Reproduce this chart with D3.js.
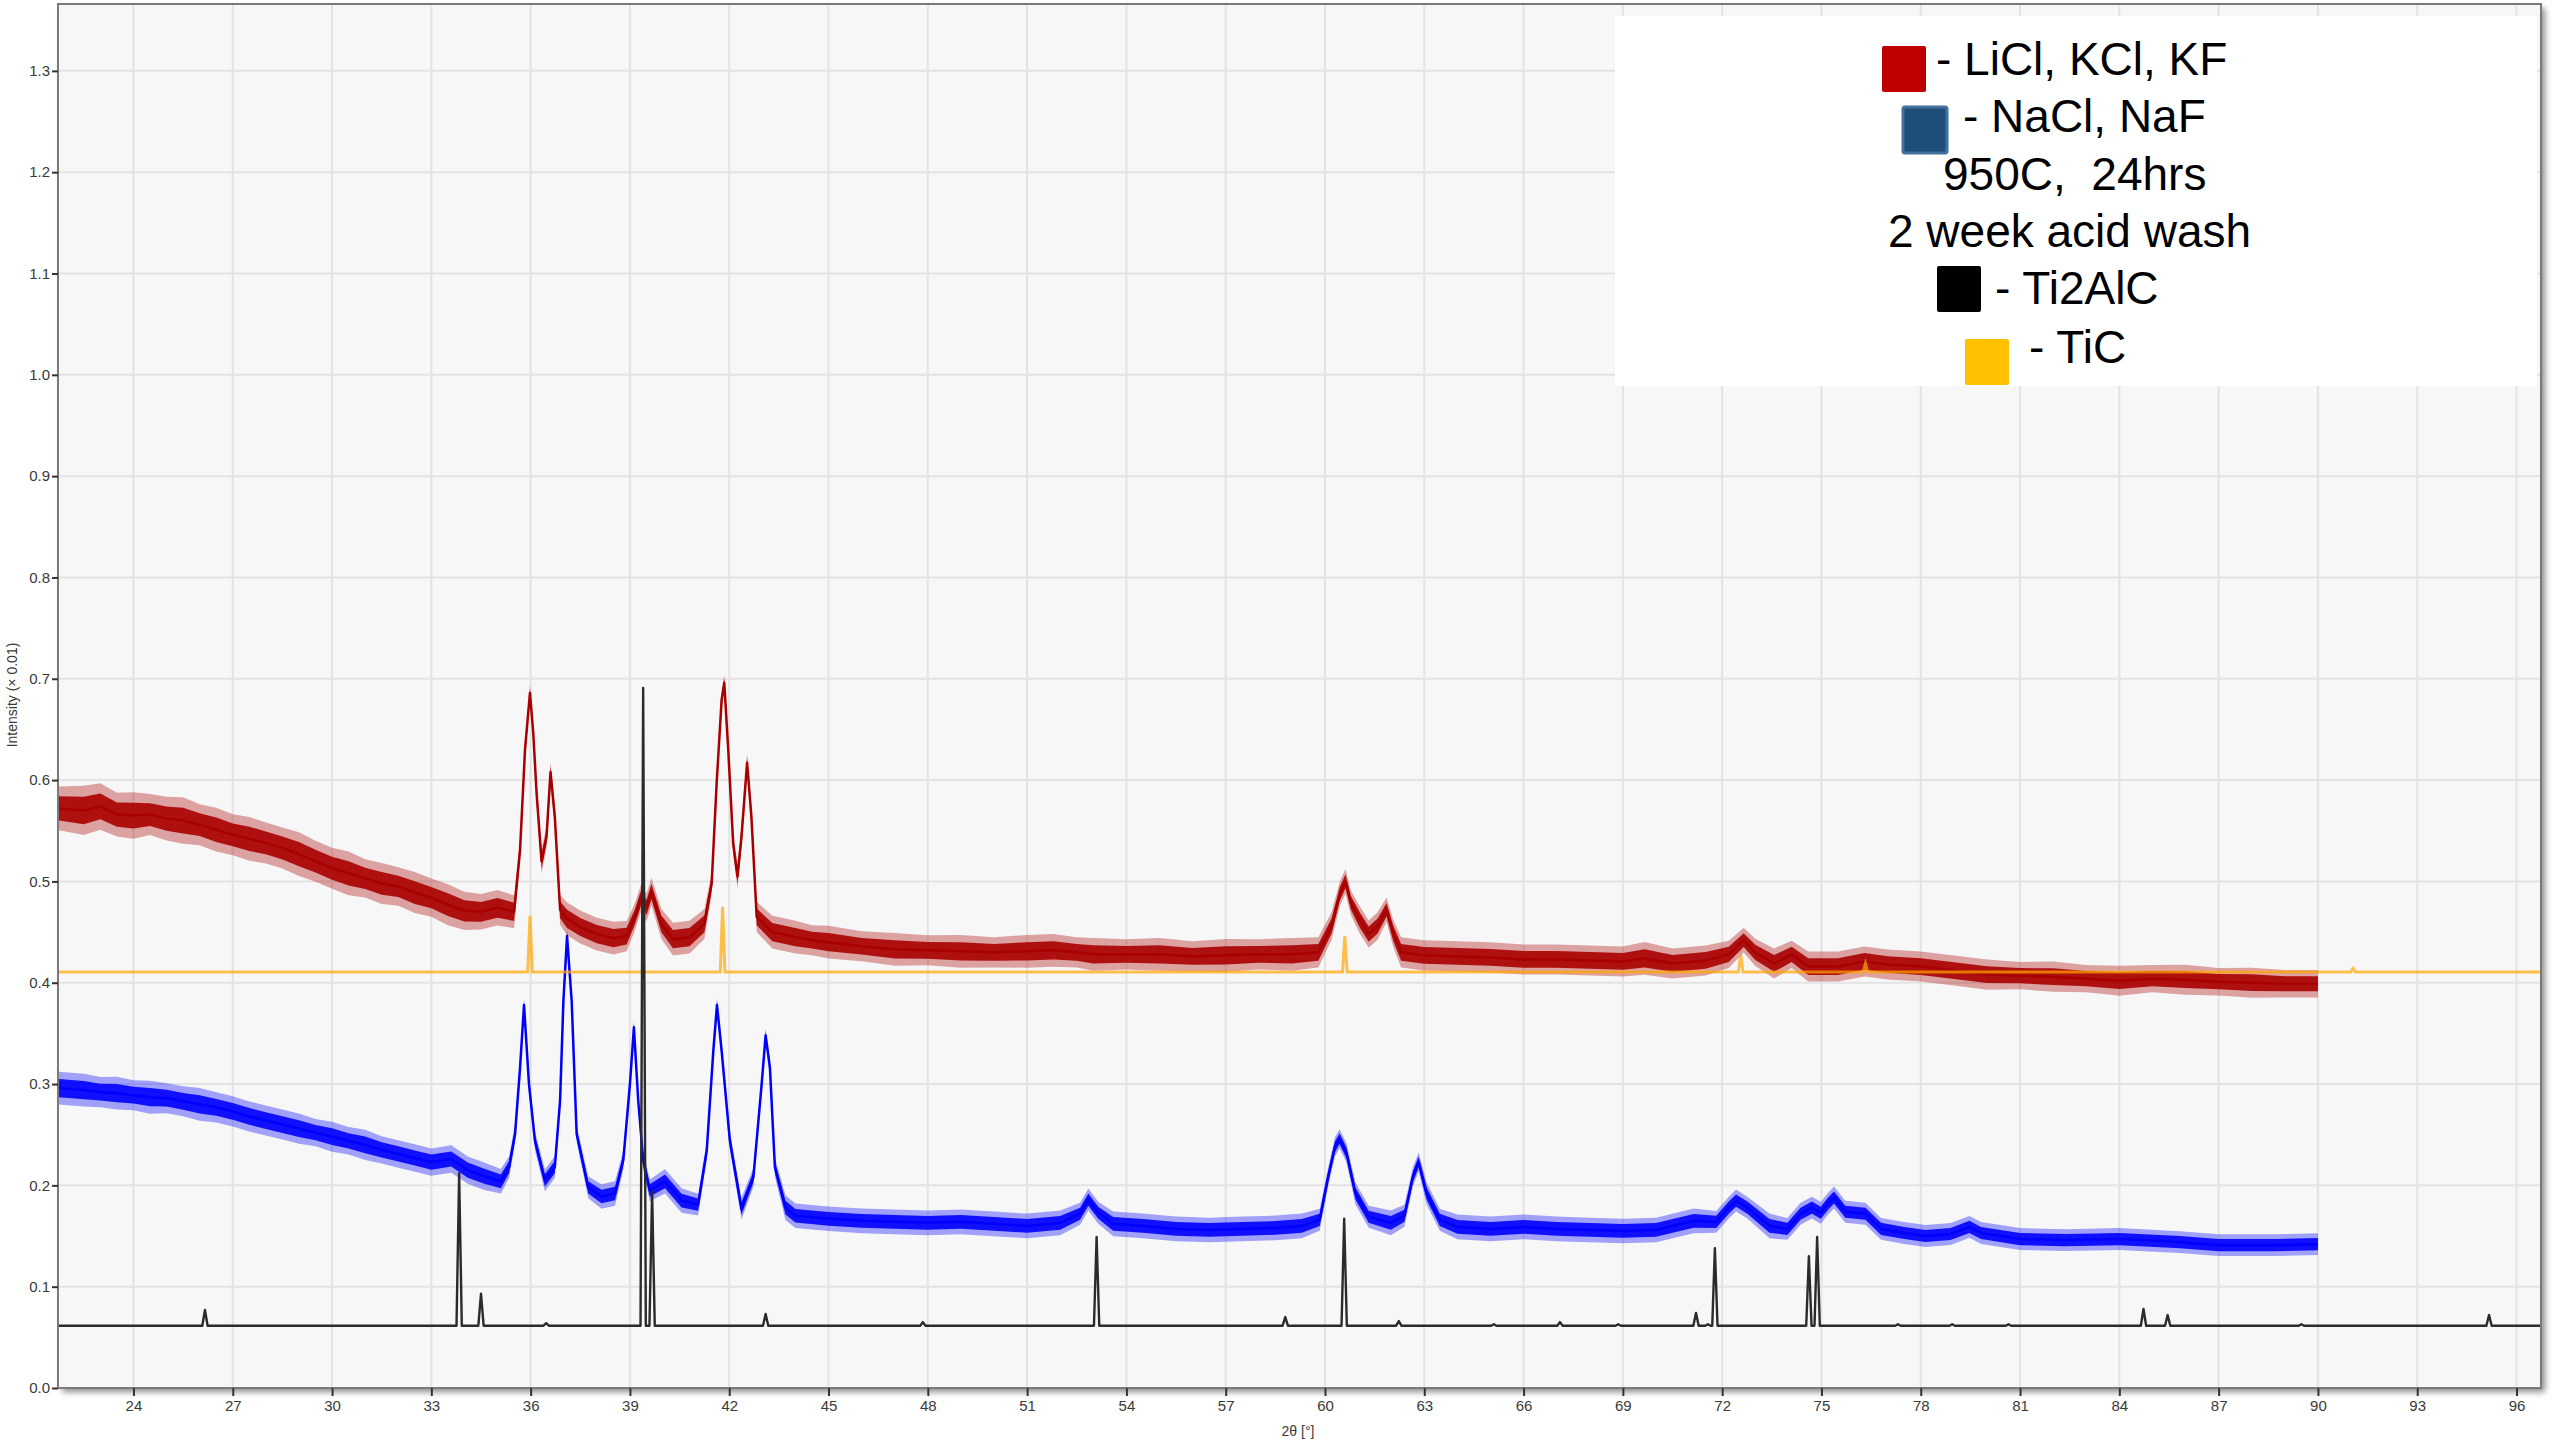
<!DOCTYPE html>
<html>
<head>
<meta charset="utf-8">
<script src="https://cdn.jsdelivr.net/npm/d3@7"></script>
<style>
  body { margin: 0; background: #fff; }
  svg { display: block; }
  text { font-family: "Liberation Sans", Arial, sans-serif; }
</style>
</head>
<body>
<svg id="chart" width="2560" height="1440"></svg>
<script>
const width = 2560;
const height = 1440;

// axis ticks
const xTicks = [24, 27, 30, 33, 36, 39, 42, 45, 48, 51, 54, 57, 60, 63, 66, 69, 72, 75, 78, 81, 84, 87, 90, 93, 96];
const yTicks = [0.0, 0.1, 0.2, 0.3, 0.4, 0.5, 0.6, 0.7, 0.8, 0.9, 1.0, 1.1, 1.2, 1.3];

// measured patterns: [2theta, mid intensity, noise half-band]
const lkclPattern = [
  [21.75,.572,.016],[22.5,.570,.018],[23,.574,.017],[23.5,.566,.016],[24,.565,.017],[24.5,.566,.015],
  [25,.562,.016],[25.5,.560,.017],[26,.556,.015],[26.5,.551,.016],[27,.546,.015],[27.5,.542,.016],
  [28,.538,.015],[28.5,.533,.015],[29,.527,.016],[29.5,.520,.015],[30,.513,.015],[30.5,.508,.016],
  [31,.503,.014],[31.5,.498,.015],[32,.495,.014],[32.5,.489,.015],[33,.484,.014],[33.5,.477,.015],
  [34,.471,.014],[34.5,.470,.013],[35,.474,.013],[35.5,.470,.012],[35.68,.531,.008],[35.83,.630,.007],
  [35.98,.686,.006],[36.08,.646,.007],[36.18,.587,.008],[36.33,.520,.009],[36.48,.544,.008],[36.6,.608,.007],
  [36.73,.564,.008],[36.89,.472,.011],[37.1,.463,.012],[37.5,.455,.012],[38,.448,.012],[38.5,.444,.012],
  [38.9,.446,.011],[39.15,.465,.010],[39.35,.485,.010],[39.5,.474,.010],[39.65,.490,.010],[39.95,.458,.011],
  [40.3,.443,.012],[40.8,.445,.012],[41.25,.458,.011],[41.47,.498,.008],[41.62,.597,.007],[41.77,.679,.006],
  [41.85,.696,.006],[41.97,.630,.007],[42.12,.537,.008],[42.25,.505,.009],[42.37,.544,.008],[42.54,.617,.007],
  [42.67,.564,.008],[42.83,.465,.011],[43.3,.450,.012],[44,.445,.012],[44.5,.442,.011],[45,.440,.012],
  [46,.436,.011],[47,.433,.012],[48,.432,.011],[49,.431,.012],[50,.430,.011],[51,.431,.012],
  [51.8,.432,.012],[52.5,.430,.011],[53,.428,.012],[54,.428,.011],[55,.428,.012],[56,.426,.011],
  [57,.427,.012],[58,.428,.011],[59,.428,.012],[59.8,.430,.011],[60.2,.456,.010],[60.45,.488,.009],
  [60.62,.500,.009],[60.78,.479,.009],[61.05,.462,.010],[61.32,.448,.010],[61.59,.456,.010],[61.86,.472,.009],
  [62.06,.449,.010],[62.3,.430,.011],[63,.427,.011],[64,.426,.011],[65,.425,.011],[66,.423,.011],
  [67,.423,.011],[68,.422,.011],[69,.421,.011],[69.66,.424,.012],[70.5,.419,.011],[71.5,.422,.011],
  [72.2,.428,.010],[72.65,.442,.009],[73,.430,.010],[73.57,.419,.011],[74.1,.428,.010],[74.6,.416,.011],
  [75.5,.416,.011],[76.3,.421,.011],[77,.418,.011],[78,.416,.011],[79,.412,.011],[80,.408,.011],
  [81,.407,.010],[82,.406,.011],[83,.404,.010],[84,.402,.011],[85,.404,.010],[86,.403,.011],
  [87,.401,.010],[88,.400,.011],[89,.399,.010],[90,.399,.010]
];

const naclPattern = [
  [21.75,.296,.012],[22.5,.294,.012],[23,.292,.011],[23.5,.291,.012],[24,.289,.011],[24.5,.287,.012],
  [25,.286,.011],[25.5,.283,.011],[26,.280,.012],[26.5,.277,.011],[27,.273,.011],[27.5,.268,.011],
  [28,.264,.011],[28.5,.260,.011],[29,.256,.011],[29.5,.252,.010],[30,.248,.011],[30.5,.244,.010],
  [31,.240,.011],[31.5,.235,.010],[32,.231,.010],[32.5,.227,.010],[33,.223,.010],[33.6,.226,.010],
  [34.1,.215,.010],[34.6,.209,.010],[35.1,.204,.009],[35.35,.218,.008],[35.53,.251,.007],[35.68,.316,.006],
  [35.8,.378,.005],[35.95,.300,.006],[36.13,.244,.007],[36.43,.205,.008],[36.73,.218,.008],[36.89,.284,.006],
  [36.99,.382,.005],[37.1,.446,.005],[37.24,.382,.005],[37.39,.251,.006],[37.74,.198,.008],[38.14,.189,.009],
  [38.55,.192,.009],[38.8,.225,.007],[39,.300,.006],[39.12,.356,.005],[39.25,.284,.006],[39.4,.225,.007],
  [39.6,.195,.008],[40.06,.204,.009],[40.56,.185,.009],[41.06,.181,.008],[41.32,.234,.007],[41.52,.333,.006],
  [41.63,.378,.005],[41.77,.333,.006],[42.02,.244,.007],[42.37,.177,.008],[42.73,.208,.007],[42.98,.300,.006],
  [43.1,.348,.005],[43.23,.316,.006],[43.38,.218,.007],[43.7,.178,.009],[44,.170,.009],[45,.167,.009],
  [46,.165,.009],[47,.164,.009],[48,.163,.009],[49,.164,.009],[50,.162,.009],[51,.160,.009],
  [52,.163,.009],[52.6,.172,.008],[52.85,.186,.008],[53.15,.173,.008],[53.6,.162,.009],[54.5,.160,.009],
  [55.5,.157,.009],[56.5,.156,.009],[57.5,.157,.009],[58.5,.158,.009],[59.3,.160,.009],[59.84,.166,.008],
  [60.1,.209,.007],[60.3,.238,.007],[60.44,.246,.007],[60.65,.232,.007],[60.92,.192,.008],[61.32,.169,.008],
  [61.99,.163,.009],[62.4,.170,.008],[62.66,.209,.007],[62.83,.223,.007],[63.07,.192,.008],[63.47,.166,.008],
  [64,.159,.009],[65,.157,.009],[66,.159,.009],[67,.157,.009],[68,.156,.009],[69,.155,.009],
  [70,.156,.009],[71.14,.165,.009],[71.82,.164,.008],[72.2,.178,.008],[72.42,.185,.008],[72.76,.178,.008],
  [73.43,.160,.009],[73.97,.157,.008],[74.37,.172,.008],[74.71,.178,.008],[74.98,.173,.008],[75.2,.182,.008],
  [75.38,.188,.008],[75.72,.174,.008],[76.33,.172,.008],[76.8,.157,.008],[77.5,.153,.008],[78.14,.150,.008],
  [78.9,.152,.008],[79.47,.159,.008],[79.82,.153,.008],[81,.147,.008],[82.36,.146,.008],[84,.147,.008],
  [85.83,.144,.008],[87,.141,.008],[88.72,.141,.008],[90,.142,.008]
];

// reference patterns: baseline and [2theta, peak top]
const ti2alcBase = 0.0615;
const ti2alcPeaks = [
  [26.16,.077],[33.84,.212],[34.5,.093],[36.47,.064],[39.4,.691],[39.67,.194],[43.1,.073],[47.85,.065],
  [53.1,.149],[58.8,.070],[60.58,.167],[62.23,.066],[65.1,.063],[67.1,.065],[68.86,.063],[71.21,.074],
  [71.57,.063],[71.78,.138],[74.62,.130],[74.87,.149],[77.31,.063],[78.95,.063],[80.65,.063],[84.73,.078],
  [85.46,.072],[89.5,.063],[95.17,.072]
];
const ticBase = 0.4105;
const ticPeaks = [[35.98,.466],[41.8,.475],[60.6,.446],[72.56,.428],[76.33,.419],[91.06,.414]];

const legendItems = [
  { label: "- LiCl, KCl, KF", color: "#c00000" },
  { label: "- NaCl, NaF", color: "#1f4e79", stroke: "#41719c" },
  { label: "950C,  24hrs" },
  { label: "2 week acid wash" },
  { label: "- Ti2AlC", color: "#000000" },
  { label: "- TiC", color: "#ffc000" }
];

const svg = d3.select("#chart");
const plot = { left: 58, right: 2541, top: 4, bottom: 1388 };

const x = d3.scaleLinear().domain([21.72, 96.74]).range([plot.left, plot.right]);
const y = d3.scaleLinear().domain([0, 1.366]).range([plot.bottom, plot.top]);

const defs = svg.append("defs");
const shadow = defs.append("filter").attr("id", "shadow")
    .attr("x", "-2%").attr("y", "-2%").attr("width", "104%").attr("height", "104%");
shadow.append("feDropShadow")
    .attr("dx", 4).attr("dy", 4).attr("stdDeviation", 3)
    .attr("flood-color", "#000").attr("flood-opacity", 0.45);
defs.append("clipPath").attr("id", "clip").append("rect")
    .attr("x", plot.left).attr("y", plot.top)
    .attr("width", plot.right - plot.left).attr("height", plot.bottom - plot.top);

// plot background with shadow
svg.append("rect")
    .attr("x", plot.left).attr("y", plot.top)
    .attr("width", plot.right - plot.left).attr("height", plot.bottom - plot.top)
    .attr("fill", "#f7f7f7")
    .attr("filter", "url(#shadow)");

// grid
const grid = svg.append("g").attr("stroke", "#e3e3e3").attr("stroke-width", 2);
grid.selectAll(".vx").data(xTicks).enter().append("line")
    .attr("x1", d => x(d)).attr("x2", d => x(d))
    .attr("y1", plot.top).attr("y2", plot.bottom);
grid.selectAll(".hy").data(yTicks).enter().append("line")
    .attr("x1", plot.left).attr("x2", plot.right)
    .attr("y1", d => y(d)).attr("y2", d => y(d));

const series = svg.append("g").attr("clip-path", "url(#clip)");

// measured patterns: faint outer noise band, solid core, centre trace
function band(k) {
    return d3.area()
        .x(d => x(d[0]))
        .y0(d => y(d[1] - d[2] * k))
        .y1(d => y(d[1] + d[2] * k));
}
const trace = d3.line().x(d => x(d[0])).y(d => y(d[1]));

function drawMeasured(data, color) {
    const g = series.append("g");
    g.append("path").datum(data).attr("d", band(1.35))
        .attr("fill", color).attr("fill-opacity", 0.35);
    g.append("path").datum(data).attr("d", band(0.75))
        .attr("fill", color).attr("fill-opacity", 0.9);
    g.append("path").datum(data).attr("d", trace)
        .attr("fill", "none").attr("stroke", color)
        .attr("stroke-width", 2.5).attr("stroke-linejoin", "round");
}
drawMeasured(lkclPattern, "#a80000");
drawMeasured(naclPattern, "#0000ff");

// reference stick patterns
const line = d3.line().x(d => x(d[0])).y(d => y(d[1]));
function stickPoints(base, peaks, halfWidth) {
    const pts = [[x.domain()[0], base]];
    peaks.forEach(p => {
        pts.push([p[0] - halfWidth, base], [p[0], p[1]], [p[0] + halfWidth, base]);
    });
    pts.push([x.domain()[1], base]);
    return pts;
}

series.append("path")
    .datum(stickPoints(ticBase, ticPeaks, 0.07))
    .attr("d", line)
    .attr("fill", "none")
    .attr("stroke", "#ffa500")
    .attr("stroke-opacity", 0.7)
    .attr("stroke-width", 3);

series.append("path")
    .datum(stickPoints(ti2alcBase, ti2alcPeaks, 0.08))
    .attr("d", line)
    .attr("fill", "none")
    .attr("stroke", "#2b2b2b")
    .attr("stroke-width", 2.4)
    .attr("stroke-linejoin", "round");

// frame
svg.append("rect")
    .attr("x", plot.left).attr("y", plot.top)
    .attr("width", plot.right - plot.left).attr("height", plot.bottom - plot.top)
    .attr("fill", "none")
    .attr("stroke", "#7a7a7a")
    .attr("stroke-width", 2);

// axes
const yAxis = svg.append("g")
    .attr("transform", `translate(${plot.left},0)`)
    .call(d3.axisLeft(y).tickValues(yTicks).tickFormat(d3.format(".1f")).tickSize(6).tickPadding(2));
const xAxis = svg.append("g")
    .attr("transform", `translate(0,${plot.bottom})`)
    .call(d3.axisBottom(x).tickValues(xTicks).tickFormat(d3.format("d")).tickSize(8).tickPadding(4));
[yAxis, xAxis].forEach(a => {
    a.select(".domain").remove();
    a.selectAll(".tick line").attr("stroke", "#333").attr("stroke-width", 2);
    a.selectAll(".tick text")
        .attr("fill", "#3a3a3a")
        .style("font-size", "15px")
        .style("font-family", "'Liberation Sans', Arial, sans-serif");
});

svg.append("text")
    .attr("transform", "rotate(-90)")
    .attr("x", -695)
    .attr("y", 17)
    .attr("text-anchor", "middle")
    .attr("fill", "#3a3a3a")
    .style("font-size", "14px")
    .text("Intensity (× 0.01)");

svg.append("text")
    .attr("x", 1298)
    .attr("y", 1436)
    .attr("text-anchor", "middle")
    .attr("fill", "#3a3a3a")
    .style("font-size", "14px")
    .text("2θ [°]");

// legend
svg.append("rect")
    .attr("x", 1615).attr("y", 16)
    .attr("width", 922).attr("height", 370)
    .attr("fill", "#ffffff");

const swatchPos = [[1882, 46], [1903, 107], null, null, [1937, 266], [1965, 339]];
const textPos = [[1936, 75], [1963, 132], [1943, 190], [1888, 247], [1995, 304], [2029, 363]];

legendItems.forEach((item, i) => {
    if (item.color) {
        svg.append("rect")
            .attr("x", swatchPos[i][0]).attr("y", swatchPos[i][1])
            .attr("width", 44).attr("height", 46)
            .attr("rx", 2)
            .attr("fill", item.color)
            .attr("stroke", item.stroke || "none")
            .attr("stroke-width", item.stroke ? 3 : 0);
    }
    svg.append("text")
        .attr("x", textPos[i][0])
        .attr("y", textPos[i][1])
        .attr("fill", "#000")
        .style("font-size", "46px")
        .style("white-space", "pre")
        .text(item.label);
});
</script>
</body>
</html>
